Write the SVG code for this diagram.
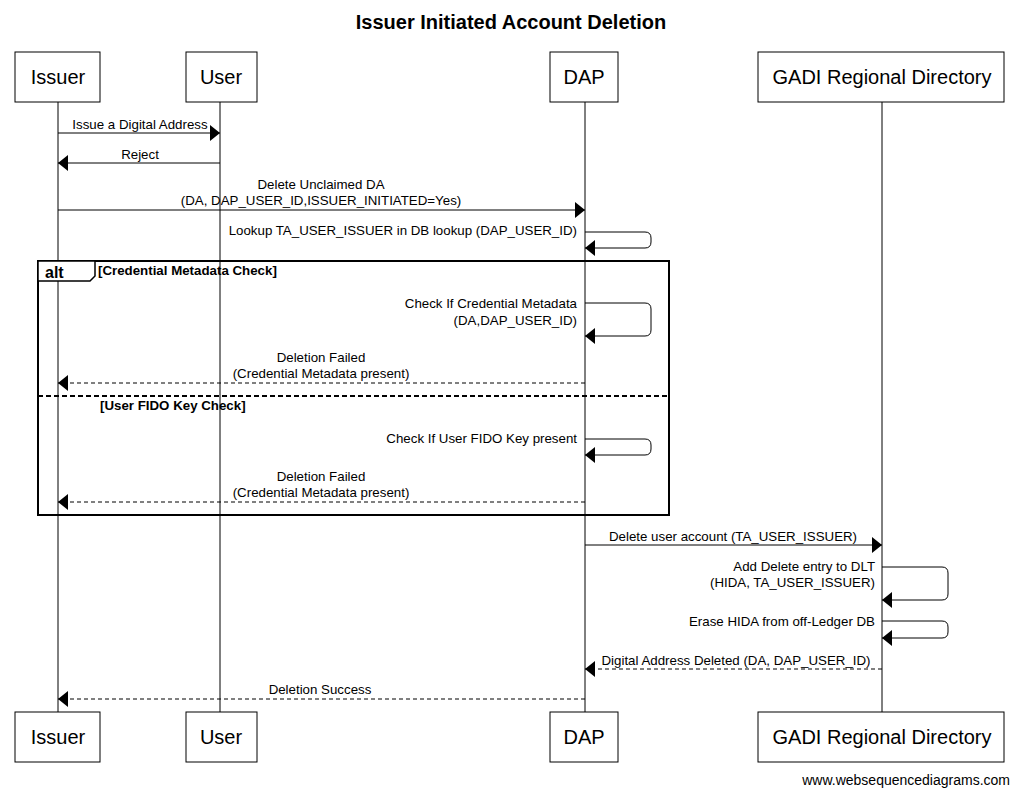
<svg xmlns="http://www.w3.org/2000/svg" width="1020" height="796" viewBox="0 0 1020 796">
<defs>
<style>
.box{fill:#fff;stroke:#000;stroke-width:1}
.pt{font-family:"Liberation Sans",Arial,sans-serif;font-size:20px;text-anchor:middle}
.m{font-family:"Liberation Sans",Arial,sans-serif;font-size:13.3px}
.c{text-anchor:middle}
.r{text-anchor:end}
.b{font-weight:bold}
.ll{stroke:#000;stroke-width:1}
.s{fill:none;stroke:#000;stroke-width:1}
.d{fill:none;stroke:#000;stroke-width:1;stroke-dasharray:4,3}
</style>
<marker id="ah" viewBox="0 0 10 16" refX="10" refY="8" markerWidth="10" markerHeight="16" markerUnits="userSpaceOnUse" orient="auto">
<polygon points="0,0 10,8 0,16" fill="#000"/>
</marker>
</defs>
<rect width="1020" height="796" fill="#fff"/>
<text x="511" y="29" font-family="Liberation Sans,Arial,sans-serif" font-size="20" font-weight="bold" text-anchor="middle">Issuer Initiated Account Deletion</text>

<g id="lifelines">
<line class="ll" x1="58" y1="102" x2="58" y2="712"/>
<line class="ll" x1="220" y1="102" x2="220" y2="712"/>
<line class="ll" x1="585" y1="102" x2="585" y2="712"/>
<line class="ll" x1="882" y1="102" x2="882" y2="712"/>
</g>

<g id="issuer">
<rect class="box" x="15" y="52" width="85" height="50"/>
<text class="pt" x="58" y="84">Issuer</text>
<rect class="box" x="15" y="712" width="85" height="50"/>
<text class="pt" x="58" y="744">Issuer</text>
</g>
<g id="user">
<rect class="box" x="186" y="52" width="71" height="50"/>
<text class="pt" x="221" y="84">User</text>
<rect class="box" x="186" y="712" width="71" height="50"/>
<text class="pt" x="221" y="744">User</text>
</g>
<g id="dap">
<rect class="box" x="550" y="52" width="68" height="50"/>
<text class="pt" x="584" y="84">DAP</text>
<rect class="box" x="550" y="712" width="68" height="50"/>
<text class="pt" x="584" y="744">DAP</text>
</g>
<g id="gadi">
<rect class="box" x="758" y="52" width="246" height="50"/>
<text class="pt" x="882" y="84">GADI Regional Directory</text>
<rect class="box" x="758" y="712" width="246" height="50"/>
<text class="pt" x="882" y="744">GADI Regional Directory</text>
</g>

<g id="alt-frame">
<rect x="38" y="261" width="631" height="254" fill="none" stroke="#000" stroke-width="2"/>
<path d="M38,261 H95 V276 L90,281 H38 Z" fill="#fff" stroke="#000" stroke-width="1.5"/>
<text x="45" y="278" font-family="Liberation Sans,Arial,sans-serif" font-size="16" font-weight="bold">alt</text>
<text class="m b" x="98" y="275" font-size="12">[Credential Metadata Check]</text>
<line x1="38" y1="396" x2="669" y2="396" stroke="#000" stroke-width="2" stroke-dasharray="5,3"/>
<text class="m b" x="100" y="410" font-size="12">[User FIDO Key Check]</text>
</g>

<g id="connectors">
<line class="s" x1="58" y1="133" x2="220" y2="133" marker-end="url(#ah)"/>
<text class="m c" x="140" y="129">Issue a Digital Address</text>

<line class="s" x1="220" y1="163" x2="58" y2="163" marker-end="url(#ah)"/>
<text class="m c" x="140" y="159">Reject</text>

<line class="s" x1="58" y1="210" x2="585" y2="210" marker-end="url(#ah)"/>
<text class="m c" x="321" y="189">Delete Unclaimed DA</text>
<text class="m c" x="321" y="205">(DA, DAP_USER_ID,ISSUER_INITIATED=Yes)</text>

<path class="s" d="M585,232 H645 Q651,232 651,238 V242 Q651,248 645,248 H585" marker-end="url(#ah)"/>
<text class="m r" x="577" y="235">Lookup TA_USER_ISSUER in DB lookup (DAP_USER_ID)</text>

<path class="s" d="M585,303 H645 Q651,303 651,309 V330 Q651,336 645,336 H585" marker-end="url(#ah)"/>
<text class="m r" x="577" y="308">Check If Credential Metadata</text>
<text class="m r" x="577" y="325">(DA,DAP_USER_ID)</text>

<line class="d" x1="585" y1="383" x2="58" y2="383" marker-end="url(#ah)"/>
<text class="m c" x="321" y="362">Deletion Failed</text>
<text class="m c" x="321" y="378">(Credential Metadata present)</text>

<path class="s" d="M585,439 H645 Q651,439 651,445 V449 Q651,455 645,455 H585" marker-end="url(#ah)"/>
<text class="m r" x="577" y="443">Check If User FIDO Key present</text>

<line class="d" x1="585" y1="502" x2="58" y2="502" marker-end="url(#ah)"/>
<text class="m c" x="321" y="481">Deletion Failed</text>
<text class="m c" x="321" y="497">(Credential Metadata present)</text>

<line class="s" x1="585" y1="545" x2="882" y2="545" marker-end="url(#ah)"/>
<text class="m c" x="733" y="541">Delete user account (TA_USER_ISSUER)</text>

<path class="s" d="M882,567 H942 Q948,567 948,573 V594 Q948,600 942,600 H882" marker-end="url(#ah)"/>
<text class="m r" x="875" y="571">Add Delete entry to DLT</text>
<text class="m r" x="875" y="587">(HIDA, TA_USER_ISSUER)</text>

<path class="s" d="M882,621 H942 Q948,621 948,627 V632 Q948,638 942,638 H882" marker-end="url(#ah)"/>
<text class="m r" x="875" y="626">Erase HIDA from off-Ledger DB</text>

<line class="d" x1="882" y1="669" x2="585" y2="669" marker-end="url(#ah)"/>
<text class="m c" x="736" y="665">Digital Address Deleted (DA, DAP_USER_ID)</text>

<line class="d" x1="585" y1="699" x2="58" y2="699" marker-end="url(#ah)"/>
<text class="m c" x="320" y="694">Deletion Success</text>
</g>

<text x="1010" y="785" font-family="Liberation Sans,Arial,sans-serif" font-size="14" text-anchor="end">www.websequencediagrams.com</text>
</svg>
